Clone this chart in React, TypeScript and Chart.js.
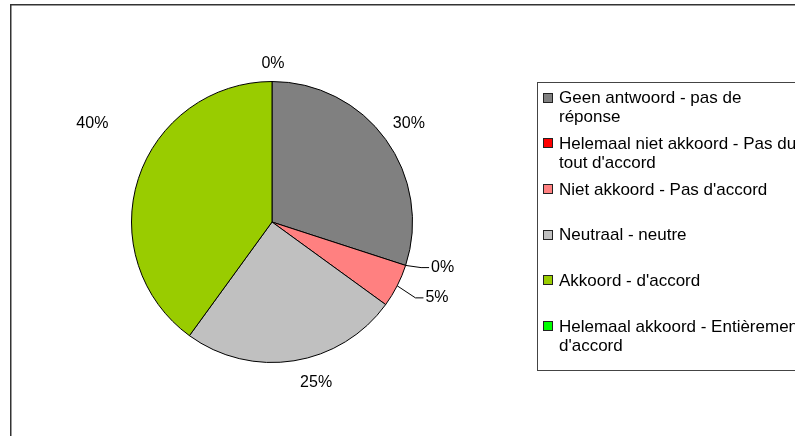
import React, { useEffect, useRef } from "react";
import { Chart, registerables } from "chart.js";

Chart.register(...registerables);

const CATEGORIES = [
  "Geen antwoord - pas de réponse",
  "Helemaal niet akkoord - Pas du tout d'accord",
  "Niet akkoord - Pas d'accord",
  "Neutraal - neutre",
  "Akkoord - d'accord",
  "Helemaal akkoord - Entièrement d'accord",
];
const VALUES = [30, 0, 5, 25, 40, 0];
const COLORS = ["#808080", "#FF0000", "#FF8080", "#C0C0C0", "#99CC00", "#00FF00"];

// label styling: offsets (px) from the default outside anchor, and which labels get leader lines
const LABEL_NUDGE: [number, number][] = [
  [7, -4],
  [18, -4],
  [22, 3],
  [19, 2],
  [-27, -49],
  [1, 2],
];
const LABEL_LEADER = [false, true, true, false, false, false];

const FONT = '"Liberation Sans", Arial, sans-serif';

function wrapText(ctx: CanvasRenderingContext2D, text: string, maxW: number): string[] {
  const words = text.split(" ");
  const lines: string[] = [];
  let cur = "";
  for (const w of words) {
    const test = cur ? cur + " " + w : w;
    if (ctx.measureText(test).width > maxW && cur) {
      lines.push(cur);
      cur = w;
    } else cur = test;
  }
  if (cur) lines.push(cur);
  return lines;
}

const framePlugin = {
  id: "frame",
  beforeDraw(chart: any) {
    const ctx = chart.ctx;
    ctx.save();
    ctx.fillStyle = "#fff";
    ctx.fillRect(0, 0, chart.width, chart.height);
    ctx.strokeStyle = "#333";
    ctx.lineWidth = 1.5;
    ctx.strokeRect(10.75, 4.75, 2000, 2000);
    ctx.restore();
  },
};

const legendPlugin = {
  id: "customLegend",
  afterDraw(chart: any) {
    const ctx = chart.ctx;
    ctx.save();
    ctx.strokeStyle = "#444";
    ctx.lineWidth = 1;
    ctx.strokeRect(537.5, 82.5, 1000, 288);
    ctx.font = "17px " + FONT;
    ctx.textBaseline = "middle";
    ctx.textAlign = "left";
    CATEGORIES.forEach((cat, i) => {
      const cy = 98.5 + i * 45.7;
      ctx.fillStyle = COLORS[i];
      ctx.fillRect(543.5, Math.round(cy - 6) + 0.5, 9, 9);
      ctx.strokeStyle = "#222";
      ctx.strokeRect(543.5, Math.round(cy - 6) + 0.5, 9, 9);
      ctx.fillStyle = "#000";
      const lines = wrapText(ctx, cat, 246);
      lines.forEach((ln, j) => ctx.fillText(ln, 559, cy + j * 19));
    });
    ctx.restore();
  },
};

const labelPlugin = {
  id: "pieLabels",
  afterDatasetsDraw(chart: any) {
    const ctx = chart.ctx;
    const meta = chart.getDatasetMeta(0);
    const total = VALUES.reduce((a, b) => a + b, 0);
    ctx.save();
    ctx.font = "16px " + FONT;
    ctx.textBaseline = "middle";
    ctx.textAlign = "center";
    ctx.fillStyle = "#000";
    ctx.strokeStyle = "#000";
    ctx.lineWidth = 1;
    meta.data.forEach((arc: any, i: number) => {
      const p = arc.getProps(["x", "y", "startAngle", "endAngle", "outerRadius"], true);
      const mid = (p.startAngle + p.endAngle) / 2;
      const d = p.outerRadius + 20;
      const lx = p.x + Math.cos(mid) * d + LABEL_NUDGE[i][0];
      const ly = p.y + Math.sin(mid) * d + LABEL_NUDGE[i][1];
      const txt = Math.round((VALUES[i] / total) * 100) + "%";
      ctx.fillText(txt, lx, ly);
      if (LABEL_LEADER[i]) {
        const w = ctx.measureText(txt).width;
        const left = lx - w / 2;
        const sx = p.x + Math.cos(mid) * p.outerRadius;
        const sy = p.y + Math.sin(mid) * p.outerRadius;
        ctx.beginPath();
        ctx.moveTo(sx, sy);
        ctx.lineTo(left - 10, ly);
        ctx.lineTo(left - 2, ly);
        ctx.stroke();
      }
    });
    ctx.restore();
  },
};

export default function App() {
  const ref = useRef<HTMLCanvasElement>(null);
  useEffect(() => {
    if (!ref.current) return;
    const chart = new Chart(ref.current, {
      type: "pie",
      data: {
        labels: CATEGORIES,
        datasets: [
          {
            data: VALUES,
            backgroundColor: COLORS,
            borderColor: "#000",
            borderWidth: 1,
          },
        ],
      },
      options: {
        responsive: false,
        animation: false,
        layout: { padding: { left: 131, top: 81, right: 382, bottom: 73 } },
        plugins: { legend: { display: false }, tooltip: { enabled: false } },
      },
      plugins: [framePlugin, legendPlugin, labelPlugin],
    });
    return () => chart.destroy();
  }, []);
  return (
    <div style={{ position: "absolute", left: 0, top: 0, width: 795, height: 436 }}>
      <canvas ref={ref} width={795} height={436} style={{ width: 795, height: 436, display: "block" }} />
    </div>
  );
}
